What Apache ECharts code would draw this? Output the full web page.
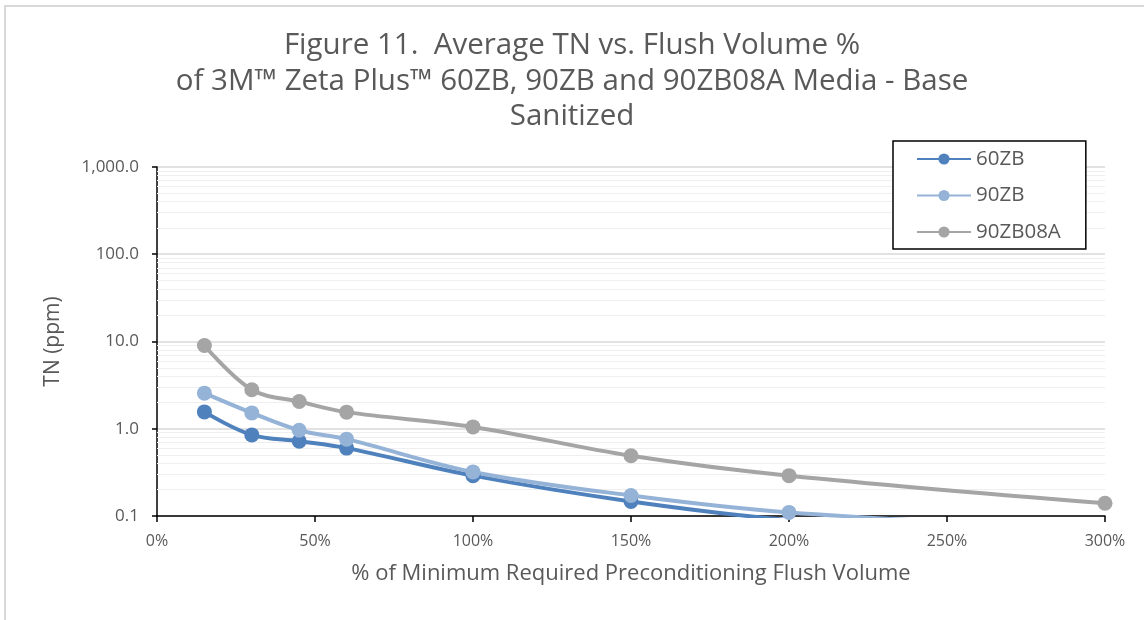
<!DOCTYPE html>
<html>
<head>
<meta charset="utf-8">
<script src="https://cdn.jsdelivr.net/npm/echarts@6/dist/echarts.min.js"></script>
<style>
  html, body { margin: 0; padding: 0; background: #ffffff; }
  #chart { width: 1144px; height: 620px; }
</style>
</head>
<body>
<div id="chart"></div>
<script>
// ---- data ----
const titleText = 'Figure 11.  Average TN vs. Flush Volume %\nof 3M\u2122 Zeta Plus\u2122 60ZB, 90ZB and 90ZB08A Media - Base\nSanitized';
const xLabelName = '% of Minimum Required Preconditioning Flush Volume';
const yLabelName = 'TN (ppm)';
const flushPercent = [15, 30, 45, 60, 100, 150, 200, 300];
const seriesNames = ['60ZB', '90ZB', '90ZB08A'];
const tn60ZB = [1.56, 0.85, 0.72, 0.60, 0.29, 0.147, 0.09, 0.05];
const tn90ZB = [2.56, 1.52, 0.96, 0.76, 0.32, 0.172, 0.11, 0.07];
const tn90ZB08A = [9.0, 2.8, 2.05, 1.55, 1.05, 0.49, 0.29, 0.14];
const minorGridValues = [0.2, 0.3, 0.4, 0.5, 0.6, 0.7, 0.8, 0.9,
  2, 3, 4, 5, 6, 7, 8, 9, 20, 30, 40, 50, 60, 70, 80, 90,
  200, 300, 400, 500, 600, 700, 800, 900];

const colors = ['#4f81bd', '#95b3d7', '#a5a5a5'];
const textColor = '#595959';
const fontFamily = '"Open Sans", Lato, sans-serif';

function pairs(ys) { return flushPercent.map((x, i) => [x, ys[i]]); }

const chart = echarts.init(document.getElementById('chart'), null, { renderer: 'canvas' });

function makeSeries(name, ys, color, withMinor) {
  const s = {
    name: name,
    type: 'line',
    data: pairs(ys),
    smooth: 0.35,
    clip: true,
    symbol: 'circle',
    symbolSize: 15,
    itemStyle: { color: color },
    lineStyle: { color: color, width: 4 },
    emphasis: { disabled: true },
    z: 3
  };
  if (withMinor) {
    s.markLine = {
      silent: true,
      z: 1,
      symbol: ['none', 'none'],
      label: { show: false },
      lineStyle: { color: '#efefef', width: 1, type: 'solid' },
      data: minorGridValues.map(v => ({ yAxis: v }))
    };
  }
  return s;
}

const option = {
  backgroundColor: '#ffffff',
  animation: false,
  textStyle: { fontFamily: fontFamily },
  graphic: [{
    type: 'rect',
    z: -10,
    shape: { x: 5, y: 6, width: 1200, height: 700 },
    style: { fill: 'none', stroke: '#d9d9d9', lineWidth: 2 }
  }],
  title: {
    text: titleText,
    left: 'center',
    top: 23,
    textStyle: {
      color: textColor,
      fontSize: 29.5,
      fontWeight: 'normal',
      lineHeight: 35.5,
      fontFamily: fontFamily
    }
  },
  legend: {
    data: seriesNames,
    orient: 'vertical',
    left: 893,
    top: 141,
    padding: [7, 25, 6, 23],
    itemGap: 14.5,
    itemWidth: 54,
    itemHeight: 14,
    borderColor: '#000000',
    borderWidth: 1.5,
    backgroundColor: '#ffffff',
    textStyle: { color: textColor, fontSize: 20.5, lineHeight: 22, fontFamily: fontFamily }
  },
  grid: { left: 157, right: 39, top: 167, bottom: 104, containLabel: false },
  xAxis: {
    type: 'value',
    min: 0,
    max: 300,
    interval: 50,
    name: xLabelName,
    nameLocation: 'middle',
    nameGap: 47,
    nameTextStyle: { color: textColor, fontSize: 22, fontFamily: fontFamily },
    axisLine: { show: true, onZero: false, lineStyle: { color: '#000000', width: 1.5 } },
    axisTick: { show: true, length: 6, lineStyle: { color: '#000000', width: 1.5 } },
    axisLabel: { color: textColor, fontSize: 16, margin: 17, formatter: '{value}%' },
    splitLine: { show: false }
  },
  yAxis: {
    type: 'log',
    logBase: 10,
    min: 0.1,
    max: 1000,
    name: yLabelName,
    nameLocation: 'middle',
    nameGap: 93,
    nameTextStyle: { color: textColor, fontSize: 21, fontFamily: fontFamily },
    axisLine: { show: true, lineStyle: { color: '#000000', width: 1.5 } },
    axisTick: { show: true, length: 5, lineStyle: { color: '#000000', width: 1.5 } },
    axisLabel: {
      color: textColor,
      fontSize: 17,
      margin: 18,
      formatter: v => Number(v).toLocaleString('en-US', { minimumFractionDigits: 1, maximumFractionDigits: 1 })
    },
    splitLine: { show: true, lineStyle: { color: '#d9d9d9', width: 1.5 } }
  },
  series: [
    makeSeries(seriesNames[0], tn60ZB, colors[0], true),
    makeSeries(seriesNames[1], tn90ZB, colors[1], false),
    makeSeries(seriesNames[2], tn90ZB08A, colors[2], false)
  ]
};

chart.setOption(option);
</script>
</body>
</html>
